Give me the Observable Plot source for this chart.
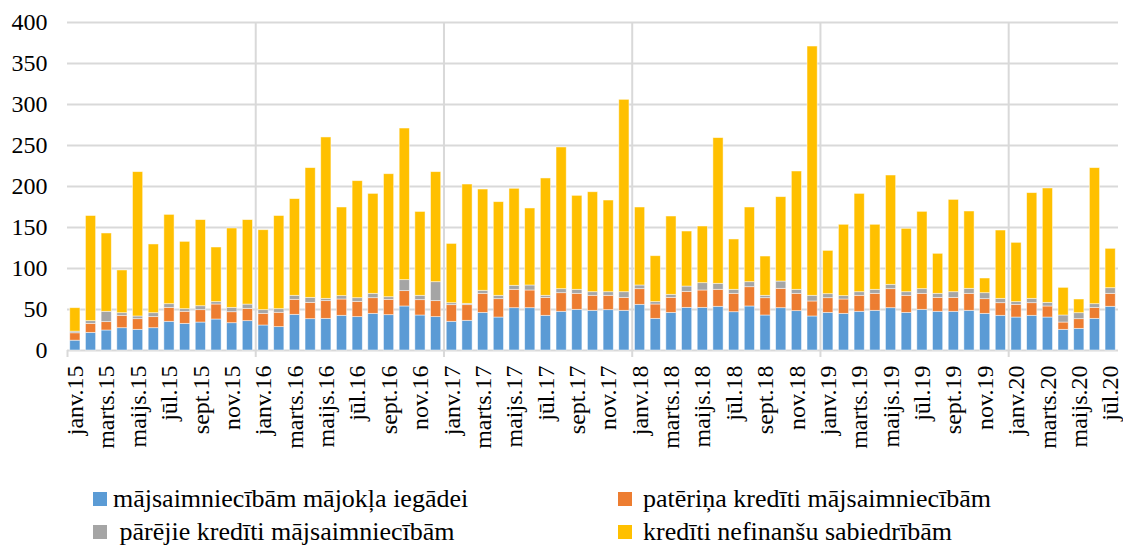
<!DOCTYPE html>
<html><head><meta charset="utf-8">
<script src="https://cdn.jsdelivr.net/npm/d3@7"></script>
<script src="https://cdn.jsdelivr.net/npm/@observablehq/plot@0.6"></script>
<style>
body{margin:0;background:#fff;}
#wrap{position:relative;width:1123px;height:548px;overflow:hidden;background:#fff;font-family:'Liberation Serif'}
.leg{position:absolute;display:flex;align-items:center;font-size:26px;line-height:28px;color:#000;white-space:pre;font-family:'Liberation Serif'}
.sw{width:14px;height:14px;margin-right:6px;flex:none}
</style></head><body><div id="wrap"></div>
<script>
// Categories: months Jan 2015 – Jul 2020
const monthNames = ["janv","febr","marts","apr","maijs","jūn","jūl","aug","sept","okt","nov","dec"];
const years = ["15","16","17","18","19","20"];
const categories = [];
years.forEach(y => monthNames.forEach(m => categories.push(m + "." + y)));
categories.splice(67);

const seriesNames = [
  "mājsaimniecībām mājokļa iegādei",
  "patēriņa kredīti mājsaimniecībām",
  "pārējie kredīti mājsaimniecībām",
  "kredīti nefinanšu sabiedrībām"
];
const seriesColors = ["#5B9BD5", "#ED7D31", "#A5A5A5", "#FFC000"];

const housing = [
  12,21.5,24.4,27.2,25.2,27.2,35,32.5,34.1,37.8,33.3,35.8,
  30.5,28.5,43.5,38.2,38.6,42.3,40.7,44.7,43.1,53.7,42.7,40.7,
  35,36.2,45.9,40.2,51.6,51.6,42.3,47.2,49.6,48.4,49.2,48.4,
  55.7,38.6,45.9,52,52,53.3,46.7,53.7,42.7,51.6,48,41.5,
  45.9,44.7,47.2,48.4,51.6,45.9,49.6,47.2,47.2,48.4,44.7,42.3,
  40.2,42.3,40.2,25.2,26.4,38.6,53.3
];
const consumer = [
  9,11,10.2,15.1,13,13.5,17,14.7,15.1,18.3,13.4,15,
  14.2,17.5,18.3,19.9,21.6,19.9,18.6,19.1,18.7,18.7,18.7,19.5,
  20.3,19.1,23.2,22.4,22.4,21.6,21.9,22.7,19.5,18.3,17.5,15.8,
  19.1,17.5,18.3,19.5,21.2,20.7,22.4,23.5,21.1,23.6,21.1,18.3,
  17.9,17.5,19.5,20.7,23.2,20.8,19.5,17,17,20.7,17.9,15.4,
  15.5,15.4,13.5,8.9,11.8,13.4,15.8
];
const otherHH = [
  2,3.3,12.6,3.2,3.3,4.8,4.5,3.2,4.8,2.9,5.3,5.2,
  4.5,4.4,4.9,6.1,2.8,4.1,4.5,5.3,3.2,13.4,5.3,23.1,
  2.4,1.6,3.7,4.1,4.9,6.1,2.5,4.9,4.9,4.4,4.4,6.9,
  4.5,2.9,3.7,6.5,8.9,7.3,4.9,6.1,2.9,8.9,4.9,6.9,
  4.9,4.1,4.4,4.9,5.3,4.4,5.7,4.9,6.9,6.1,7.3,5.3,
  3.3,5.3,4.4,8.6,7.3,4.5,6.9
];
const corporate = [
  28.6,128.2,95.5,52.1,176,83.8,108.9,82.1,105,66.6,96.8,103,
  97.5,113.6,117.9,158.2,196.8,108.1,142.7,121.9,150,184.9,102.3,134.2,
  72.3,145.5,123.5,114.2,118.3,93.9,143.1,172.8,114.6,121.9,111.8,234.6,
  95.1,56,95.5,67.1,69.1,177.7,61.4,91.1,47.9,102.9,144.3,304,
  52.8,87,119.9,79.3,133.3,77.3,94.3,48.8,112.6,94.3,17.9,83.3,
  72.3,128.9,139.5,33.7,16.7,165.9,48
];
const yTicks = [0,50,100,150,200,250,300,350,400];
const xTickLabels = categories.filter((d, i) => i % 2 === 0);
const yearStarts = categories.filter((d, i) => i > 0 && i % 12 === 0);

const seriesValues = [housing, consumer, otherHH, corporate];
const data = [];
seriesNames.forEach((s, k) => categories.forEach((c, i) => data.push({month: c, series: s, value: seriesValues[k][i]})));

const W = 1123, H = 460, mL = 67, mR = 5, mT = 22, mB = 110;
const step = (W - mL - mR) / categories.length;
const grid = "#d9d9d9";
const FONT = "Liberation Serif";

const chart = Plot.plot({
  width: W, height: H,
  marginLeft: mL, marginRight: mR, marginTop: mT, marginBottom: mB,
  style: {fontSize: "24px", fontFamily: FONT, color: "#000", background: "#fff"},
  x: {domain: categories, paddingInner: 0.35, paddingOuter: 0.175, label: null},
  y: {domain: [0, 400], label: null},
  color: {domain: seriesNames, range: seriesColors},
  marks: [
    Plot.ruleY(yTicks, {stroke: grid, strokeWidth: 2}),
    Plot.ruleX(yearStarts, {x: d => d, dx: -step / 2, stroke: grid, strokeWidth: 2, insetBottom: -7}),
    Plot.ruleX([categories[0]], {x: d => d, y1: 0, y2: 0, dx: -step / 2, stroke: grid, strokeWidth: 2, insetBottom: -7}),
    Plot.barY(data, {x: "month", y: "value", fill: "series", order: seriesNames, stroke: "#fff", strokeWidth: 0.8, strokeOpacity: 0.6}),
    Plot.axisY({ticks: yTicks, tickSize: 0, tickPadding: 20, label: null, fontFamily: FONT}),
    Plot.axisX({ticks: xTickLabels, tickSize: 0, tickPadding: 15, tickRotate: -90, label: null, fontFamily: FONT})
  ]
});
const wrap = document.getElementById("wrap");
wrap.appendChild(chart);

const legendPos = [[93, 485, 6], [618, 485, 11], [93, 518, 6], [618, 518, 11]];
const legendText = [seriesNames[0], seriesNames[1], " " + seriesNames[2], seriesNames[3]];
legendPos.forEach(([lx, ly, gap], k) => {
  const div = document.createElement("div");
  div.className = "leg";
  div.style.left = lx + "px";
  div.style.top = ly + "px";
  const sw = document.createElement("span");
  sw.className = "sw";
  sw.style.background = seriesColors[k];
  sw.style.marginRight = gap + "px";
  const t = document.createElement("span");
  t.textContent = legendText[k];
  div.appendChild(sw); div.appendChild(t);
  wrap.appendChild(div);
});
</script></body></html>
